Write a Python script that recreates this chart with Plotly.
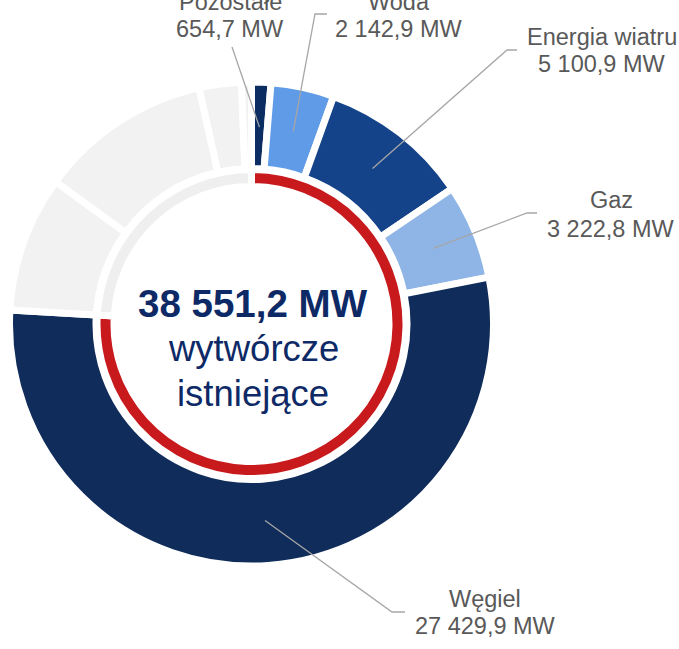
import math
import plotly.graph_objects as go

# ---------------- data ----------------
categories = ["Pozostałe", "Woda", "Energia wiatru", "Gaz", "Węgiel"]
values_mw = [654.7, 2142.9, 5100.9, 3222.8, 27429.9]
colors = ["#0b2d62", "#5f9be6", "#15438a", "#8eb5e6", "#0f2c5a"]
# light grey "rest" segments of the outer ring (MW-equivalent)
rest_values = [4613, 5854, 1425, 339]
center_lines = ["wytwórcze", "istniejące"]

# ---------------- layout constants ----------------
W, H = 679, 649
CX, CY = 251.5, 324.0          # pie centre in px (from top-left)
R_OUT, R_OUT_IN = 238.5, 159.0  # visible outer ring radii
R_IN, R_IN_IN = 151.0, 141.0    # visible inner ring radii
GAP = 7                          # white separator width
LABEL_R = 197.0
GREY = "#f2f2f2"
RED = "#c8191c"
NAVY_TXT = "#0e2a66"
LBL_COL = "#595959"
LINE_COL = "#a6a6a6"
FONT = "Arial, Liberation Sans, sans-serif"


def fmt(v):
    s = f"{v:,.1f}"
    return s.replace(",", " ").replace(".", ",")


def px2paper(x, y):
    return x / W, 1 - y / H


def domain(r):
    cy_b = H - CY
    return dict(x=[(CX - r) / W, (CX + r) / W], y=[(cy_b - r) / H, (cy_b + r) / H])


total = sum(values_mw)
grey_total = sum(rest_values)
grand = total + grey_total

fig = go.Figure()

# outer ring
r_o = R_OUT + GAP / 2
r_oi = R_OUT_IN - GAP / 2
fig.add_trace(go.Pie(
    values=values_mw + rest_values,
    labels=categories + [f"rest{i}" for i in range(len(rest_values))],
    marker=dict(colors=colors + [GREY] * len(rest_values), line=dict(color="white", width=GAP)),
    hole=r_oi / r_o, sort=False, direction="clockwise", rotation=0,
    textinfo="none", hoverinfo="label+value", domain=domain(r_o), showlegend=False,
))

# inner ring
r_i = R_IN + GAP / 2
r_ii = R_IN_IN - GAP / 2
fig.add_trace(go.Pie(
    values=[total, grey_total], labels=["istniejące", "reszta"],
    marker=dict(colors=[RED, "#efefef"], line=dict(color="white", width=GAP)),
    hole=r_ii / r_i, sort=False, direction="clockwise", rotation=0,
    textinfo="none", hoverinfo="label+value", domain=domain(r_i), showlegend=False,
))

# label placement (px): (centre x, baseline line1, baseline line2, elbow points)
label_pos = {
    "Pozostałe": (230, 10, 37, [(232, 47)]),
    "Woda": (399, 10, 37, [(327, 14), (315, 14)]),
    "Energia wiatru": (602, 45, 72, [(517, 50), (507, 50)]),
    "Gaz": (611, 208, 237, [(537, 213), (527, 213)]),
    "Węgiel": (485, 607, 634, [(405, 612), (392, 612)]),
}

annotations = []
shapes = []
cum = 0.0
for cat, v in zip(categories, values_mw):
    mid = (cum + v / 2) / grand * 2 * math.pi
    cum += v
    ex = CX + LABEL_R * math.sin(mid)
    ey = CY - LABEL_R * math.cos(mid)
    lx, b1, b2, pts = label_pos[cat]
    fs = 23.5
    for txt, b in ((cat, b1), (fmt(v) + " MW", b2)):
        xp, yp = px2paper(lx, b - 8)
        annotations.append(dict(x=xp, y=yp, xref="paper", yref="paper", text=txt,
                                showarrow=False, xanchor="center", yanchor="middle",
                                font=dict(family=FONT, size=fs, color=LBL_COL)))
    path_pts = pts + [(ex, ey)]
    path = "M " + " L ".join(f"{px2paper(x, y)[0]},{px2paper(x, y)[1]}" for x, y in path_pts)
    shapes.append(dict(type="path", path=path, xref="paper", yref="paper",
                       line=dict(color=LINE_COL, width=1.3)))

# centre text
centre = [(f"<b>{fmt(total)} MW</b>", 38.5, 304), (center_lines[0], 36.5, 348), (center_lines[1], 36.5, 393)]
for txt, fs, yc in centre:
    xp, yp = px2paper(253, yc)
    annotations.append(dict(x=xp, y=yp, xref="paper", yref="paper", text=txt, showarrow=False,
                            xanchor="center", yanchor="middle",
                            font=dict(family=FONT, size=fs, color=NAVY_TXT)))

fig.update_layout(
    width=W, height=H, autosize=False,
    margin=dict(l=0, r=0, t=0, b=0),
    paper_bgcolor="white", plot_bgcolor="white",
    annotations=annotations, shapes=shapes,
)

fig.write_html("out.html", config={"displayModeBar": False},
               post_script="document.body.style.margin='0';")
